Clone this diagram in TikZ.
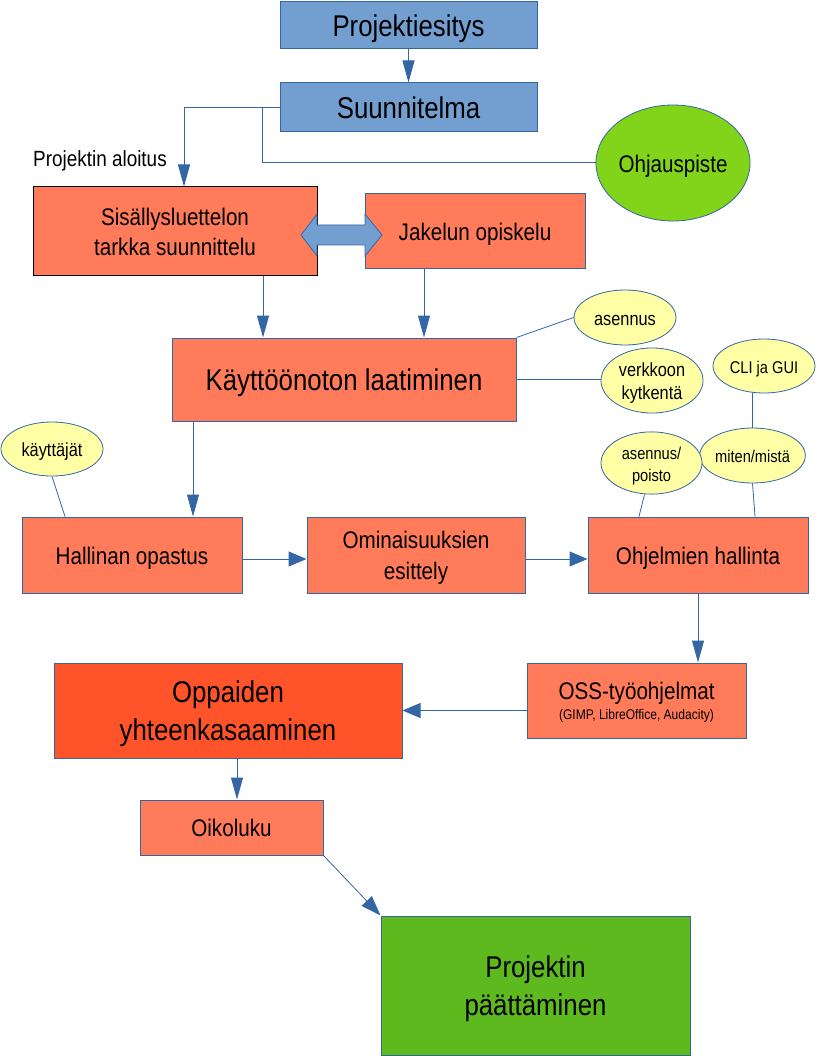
\documentclass[tikz,border=0pt]{standalone}
\usepackage{fontspec}
\setmainfont{Liberation Sans}[FakeStretch=0.86]
\usetikzlibrary{arrows.meta,shapes.geometric,calc}
\definecolor{bfill}{HTML}{729FCF}
\definecolor{bline}{HTML}{3465A4}
\definecolor{ofill}{HTML}{FF7B5A}
\definecolor{rfill}{HTML}{FF5429}
\definecolor{gcirc}{HTML}{81D41A}
\definecolor{gbox}{HTML}{5EB91E}
\definecolor{yfill}{HTML}{FFFFA6}
\newcommand\fszA{\fontsize{30pt}{38pt}\selectfont}
\newcommand\fszB{\fontsize{24pt}{30.5pt}\selectfont}
\newcommand\fszC{\fontsize{22pt}{27pt}\selectfont}
\newcommand\fszD{\fontsize{19pt}{23pt}\selectfont}
\newcommand\fszE{\fontsize{17pt}{22pt}\selectfont}
\newcommand\fszF{\fontsize{14pt}{17pt}\selectfont}
\newcommand\tx[1]{\raisebox{-3pt}[\height][\depth]{\begin{tabular}{@{}c@{}}#1\end{tabular}}}
\begin{document}
\begin{tikzpicture}[x=1pt,y=1pt,
  box/.style={draw=bline, line width=1pt, inner sep=0pt, text=black},
  bluebox/.style={box, fill=bfill, font=\fszA},
  orbox/.style={box, fill=ofill, font=\fszB},
  bubble/.style={ellipse, draw=bline, line width=0.8pt, fill=yfill, inner sep=0pt, text=black},
  conn/.style={draw=bline, line width=1pt},
  arrV/.style={conn, -{Triangle[length=22pt,width=12pt]}},
  arrH/.style={conn, -{Triangle[length=18pt,width=15pt]}},
  arrD/.style={conn, -{Triangle[length=20pt,width=14pt]}}
]
\useasboundingbox (0,0) rectangle (816,-1056);

% boxes
\node[bluebox, minimum width=257pt, minimum height=47pt] (pe) at (408.5,-25.5) {\tx{Projektiesitys}};
\node[bluebox, minimum width=257pt, minimum height=49pt] (su) at (408.5,-107.5) {\tx{Suunnitelma}};
\node[orbox, draw=black, minimum width=284pt, minimum height=89pt] (si) at (175,-231.5) {\tx{Sisällysluettelon\\tarkka suunnittelu}};
\node[orbox, minimum width=220pt, minimum height=75pt] (ja) at (475,-231.5) {\tx{Jakelun opiskelu}};
\node[orbox, font=\fszA, minimum width=344pt, minimum height=83pt] (ka) at (344,-379.5) {\tx{Käyttöönoton laatiminen}};
\node[orbox, minimum width=220pt, minimum height=76pt] (ha) at (132,-555) {\tx{Hallinan opastus}};
\node[orbox, minimum width=218pt, minimum height=76pt] (om) at (416,-555) {\tx{Ominaisuuksien\\esittely}};
\node[orbox, minimum width=220pt, minimum height=76pt] (oh) at (698,-555) {\tx{Ohjelmien hallinta}};
\node[orbox, minimum width=219pt, minimum height=75pt] (os) at (636.5,-700.5) {\tx{OSS-työohjelmat\\[-10.5pt]{\fszF (GIMP, LibreOffice, Audacity)}}};
\node[box, fill=rfill, font=\fszA, minimum width=348pt, minimum height=95pt] (op) at (228,-710.5) {\tx{Oppaiden\\yhteenkasaaminen}};
\node[orbox, minimum width=183pt, minimum height=55pt] (oi) at (231.5,-827.5) {\tx{Oikoluku}};
\node[box, fill=gbox, font=\fszA, minimum width=309pt, minimum height=139pt] (pp) at (535.5,-985.5) {\tx{Projektin\\päättäminen}};

% ellipses
\node[ellipse, draw=bline, line width=0.8pt, fill=gcirc, inner sep=0pt, font=\fszB, minimum width=144pt, minimum height=116pt] (oj) at (673,-163) {\tx{Ohjauspiste}};
\node[bubble, font=\fszD, minimum width=102pt, minimum height=55pt] (as) at (625,-317.5) {\tx{asennus}};
\node[bubble, font=\fszD, minimum width=102pt, minimum height=55pt] (ve) at (652,-380.5) {\tx{verkkoon\\kytkentä}};
\node[bubble, font=\fszE, minimum width=102pt, minimum height=54pt] (cl) at (764,-366) {\tx{CLI ja GUI}};
\node[bubble, font=\fszE, minimum width=89pt, minimum height=55pt] (mi) at (752.5,-455.5) {\tx{miten/mistä}};
\node[bubble, font=\fszE, minimum width=101pt, minimum height=54pt] (ap) at (651.5,-463) {\tx{asennus/\\poisto}};
\node[bubble, font=\fszD, minimum width=102pt, minimum height=54pt] (ky) at (52,-449) {\tx{käyttäjät}};

% label
\node[anchor=base west, font=\fszC, inner sep=0pt] (lab) at (33,-167) {Projektin aloitus};

% double arrow between si and ja
\draw[draw=bline, fill=bfill, line width=0.8pt] (301,-235) -- (317,-214) -- (317,-225) -- (365,-225) -- (365,-214) -- (382,-235) -- (365,-256) -- (365,-245) -- (317,-245) -- (317,-256) -- cycle;

% connectors
\draw[arrV] (pe.south) -- (su.north);
\draw[arrV] (su.west) -| ([xshift=9pt]si.north);
\draw[conn] ([xshift=-17pt]su.west) |- (oj.west);
\draw[arrV] ([xshift=88pt]si.south) -- ([xshift=88pt]si.south |- ka.north);
\draw[arrV] ([xshift=-51pt]ja.south) -- ([xshift=-51pt]ja.south |- ka.north);
\draw[conn, line width=0.8pt] (ka.north east) -- (as.west);
\draw[conn] (ka.east) -- (ka.east -| ve.west);
\draw[arrV] ([xshift=-151pt]ka.south) -- ([xshift=-151pt]ka.south |- ha.north);
\draw[conn, line width=0.8pt] (ky.south) -- ([xshift=-67pt]ha.north);
\draw[arrH] ([yshift=-4pt]ha.east) -- ([yshift=-4pt]om.west);
\draw[arrH] ([yshift=-4pt]om.east) -- ([yshift=-4pt]oh.west);
\draw[conn, line width=0.8pt] ([xshift=-7pt]ap.south) -- ([xshift=-59pt]oh.north);
\draw[conn, line width=0.8pt] (mi.south) -- ([xshift=57pt]oh.north);
\draw[conn] (mi.north) -- (mi.north |- cl.south);
\draw[arrV] (oh.south) -- (oh.south |- os.north);
\draw[arrH] (os.west |- op.east) -- (op.east);
\draw[arrV] ([xshift=9pt]op.south) -- ([xshift=9pt]op.south |- oi.north);
\draw[arrD, line width=0.8pt] (oi.south east) -- (pp.north west);
\end{tikzpicture}
\end{document}
